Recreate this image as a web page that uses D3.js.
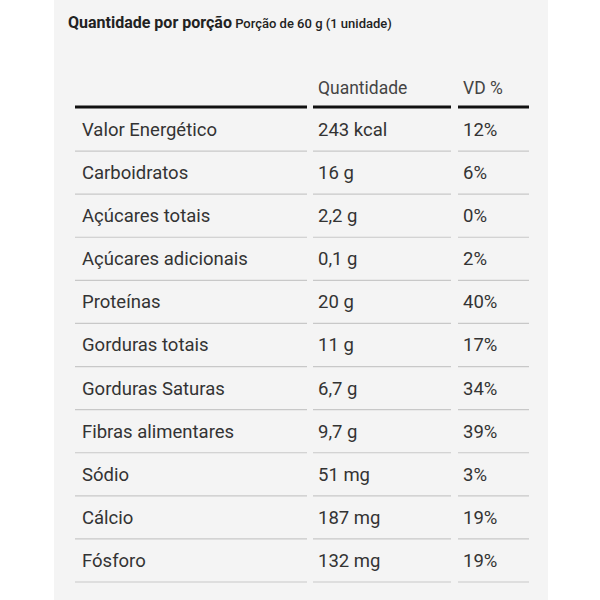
<!DOCTYPE html><html><head><meta charset="utf-8"><script src="https://cdn.jsdelivr.net/npm/d3@7"></script>
<style>body{margin:0;background:#fff}</style></head><body><script>
const nutrients=["Valor Energético","Carboidratos","Açúcares totais","Açúcares adicionais","Proteínas","Gorduras totais","Gorduras Saturas","Fibras alimentares","Sódio","Cálcio","Fósforo"];
const amounts=["243 kcal","16 g","2,2 g","0,1 g","20 g","11 g","6,7 g","9,7 g","51 mg","187 mg","132 mg"];
const vd=["12%","6%","0%","2%","40%","17%","34%","39%","3%","19%","19%"];
const headers=["","Quantidade","VD %"];
const svg=d3.select("body").append("svg").attr("width",600).attr("height",600).style("font-family","Roboto");
svg.append("rect").attr("x",54).attr("y",0).attr("width",494).attr("height",600).attr("fill","#f4f4f4");
const t=svg.append("text").attr("x",68).attr("y",28).attr("fill","#222");
t.append("tspan").text("Quantidade por porção").attr("font-size",16).attr("font-weight","bold");
t.append("tspan").text(" Porção de 60 g (1 unidade)").attr("font-size",13).attr("font-weight",500);
const cols=[[75,307,82],[313,451,318],[458,529,463]];
const y=d3.scaleBand().domain(d3.range(nutrients.length)).range([108,582]);
headers.forEach((h,i)=>{svg.append("text").attr("x",cols[i][2]).attr("y",94).attr("font-size",17.5).attr("fill","#444").text(h);
 svg.append("line").attr("x1",cols[i][0]).attr("x2",cols[i][1]).attr("y1",107).attr("y2",107).attr("stroke","#111").attr("stroke-width",3);});
const data=nutrients.map((n,i)=>[n,amounts[i],vd[i]]);
const g=svg.selectAll("g.r").data(data).join("g").attr("transform",(d,i)=>`translate(0,${y(i)})`);
cols.forEach((c,j)=>{
 g.append("text").attr("x",c[2]).attr("y",y.bandwidth()/2+6.5).attr("font-size",18.5).attr("fill","#333").text(d=>d[j]);
 g.append("line").attr("x1",c[0]).attr("x2",c[1]).attr("y1",y.bandwidth()).attr("y2",y.bandwidth()).attr("stroke","#c8c8c8").attr("stroke-width",1.2);
});
</script></body></html>
